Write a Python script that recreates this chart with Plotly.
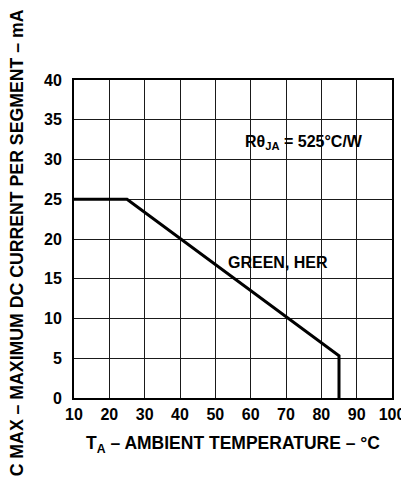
import plotly.graph_objects as go

temp_c = [10, 25, 85, 85]
current_ma = [25, 25, 5.3, 0]
x_ticks = [10, 20, 30, 40, 50, 60, 70, 80, 90, 100]
y_ticks = [0, 5, 10, 15, 20, 25, 30, 35, 40]
series_label = "GREEN, HER"
resistance_label = "Rθ<sub>JA</sub> = 525°C/W"
y_title = "IDC MAX – MAXIMUM DC CURRENT PER SEGMENT – mA"
x_title = "T<sub>A</sub> – AMBIENT TEMPERATURE – °C"

FONT = "Liberation Sans, Arial, sans-serif"

fig = go.Figure()
fig.add_trace(go.Scatter(x=temp_c, y=current_ma, mode="lines",
                         line=dict(color="black", width=3), showlegend=False,
                         hoverinfo="skip"))

fig.add_annotation(x=75, y=32.2, text=resistance_label, showarrow=False,
                   font=dict(family=FONT, size=16, color="black", weight="bold"))
fig.add_annotation(x=67.7, y=17.1, text=series_label, showarrow=False,
                   font=dict(family=FONT, size=16, color="black", weight="bold"))

# vertical y-axis title, clipped by the page edges as in the reference
fig.add_annotation(xref="paper", yref="paper", x=0, y=0.5, xshift=-57, yshift=-13,
                   xanchor="center", yanchor="middle", textangle=-90,
                   text=y_title, showarrow=False,
                   font=dict(family=FONT, size=17.7, color="black", weight="bold"))

axis_common = dict(showgrid=True, gridcolor="#1a1a1a", gridwidth=1,
                   showline=True, linecolor="black", linewidth=2, mirror=True,
                   zeroline=False, ticks="",
                   tickfont=dict(family=FONT, size=16, color="black", weight="bold"))

fig.update_xaxes(range=[10, 100], tickvals=x_ticks, ticklabelstandoff=1,
                 title=dict(text=x_title,
                            font=dict(family=FONT, size=17.5, color="black", weight="bold"),
                            standoff=15),
                 **axis_common)
fig.update_yaxes(range=[0, 40], tickvals=y_ticks, ticklabelstandoff=7,
                 **axis_common)

# the page body adds an 8px margin, so the figure is 8px smaller and shifted
fig.update_layout(width=401, height=469, plot_bgcolor="white", paper_bgcolor="white",
                  margin=dict(l=66, r=17, t=72, b=79, autoexpand=False),
                  font=dict(family=FONT, color="black"))

fig.write_html("out.html")
